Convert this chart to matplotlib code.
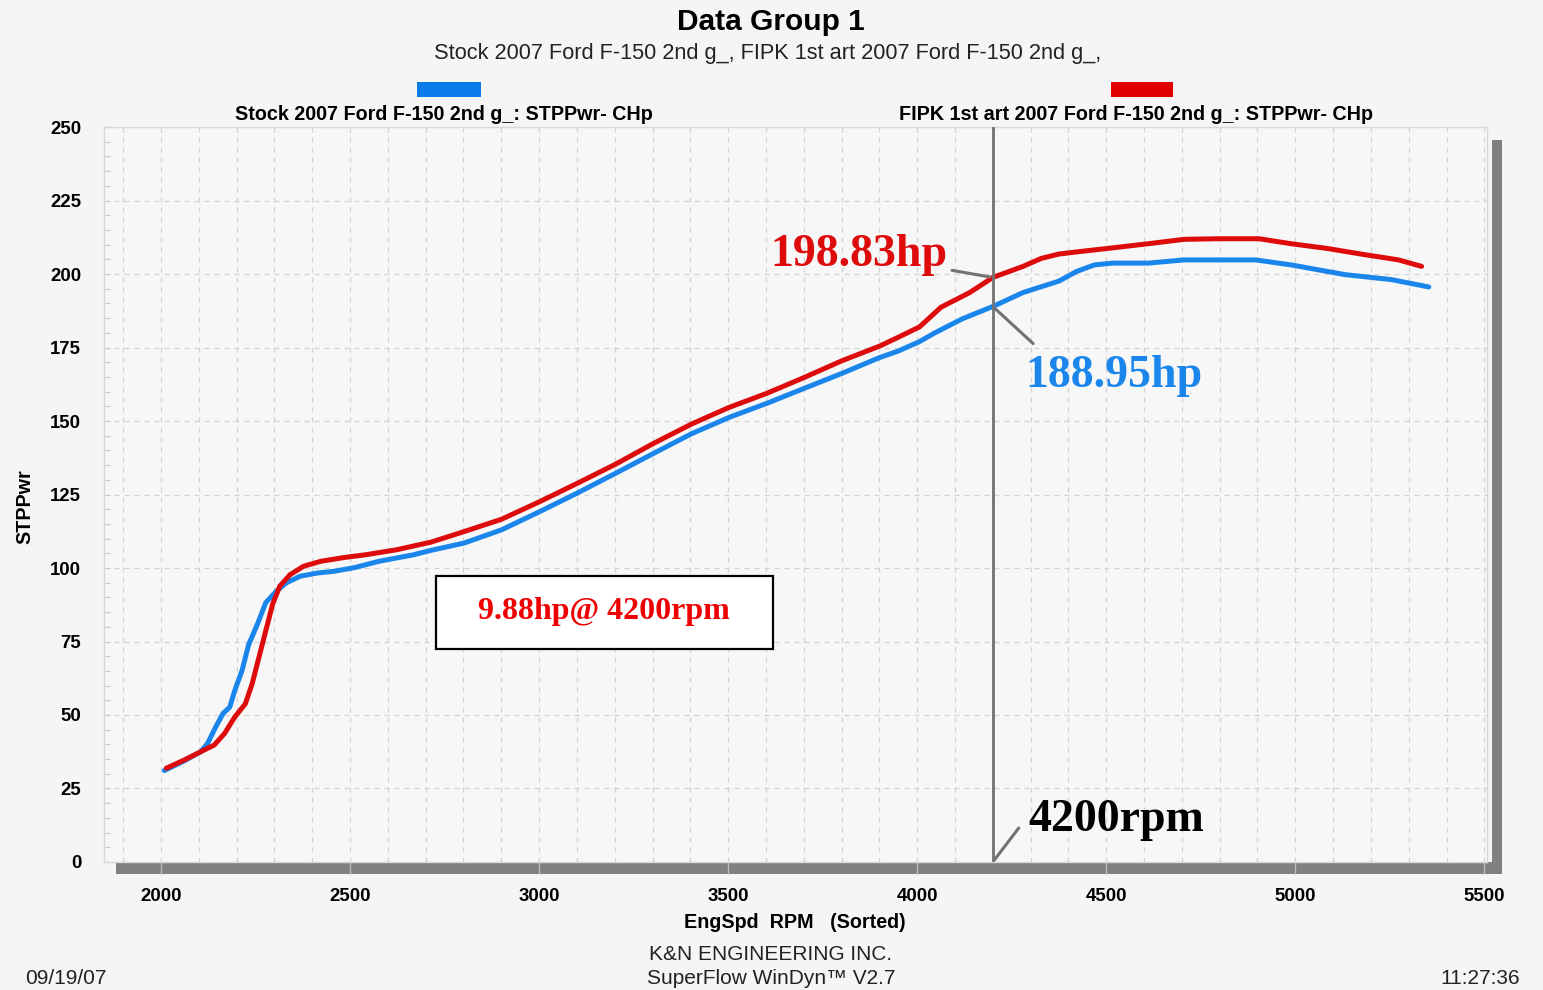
import matplotlib
matplotlib.use('Agg')
import matplotlib.pyplot as plt
from matplotlib.patches import Rectangle
from matplotlib.ticker import MultipleLocator

# dyno data
stock_rpm = [2009, 2060, 2105, 2123, 2145, 2164, 2182, 2195, 2214, 2232, 2255, 2277, 2305,
             2332, 2368, 2414, 2459, 2514, 2577, 2668, 2714, 2802, 2901, 3002, 3101, 3202,
             3303, 3402, 3502, 3602, 3701, 3801, 3901, 3950, 4006, 4044, 4120, 4200, 4280,
             4375, 4422, 4469, 4517, 4611, 4706, 4895, 4989, 5131, 5254, 5353]
stock_hp = [31.1, 34.3, 37.5, 40.3, 46.0, 50.5, 52.7, 58.3, 65.0, 74.0, 80.9, 88.2, 92.1,
            95.0, 97.2, 98.3, 98.9, 100.2, 102.3, 104.5, 106.0, 108.5, 113.0, 119.2, 125.5, 132.2,
            139.0, 145.6, 151.2, 156.0, 161.1, 166.2, 171.6, 173.8, 177.0, 179.8, 184.8, 188.95, 193.7,
            197.6, 200.9, 203.1, 203.7, 203.7, 204.8, 204.8, 203.1, 199.8, 198.1, 195.6]

fipk_rpm = [2014, 2060, 2105, 2141, 2168, 2195, 2223, 2241, 2259, 2277, 2295, 2314, 2341,
            2377, 2423, 2486, 2541, 2623, 2714, 2802, 2901, 3002, 3101, 3202, 3303, 3402,
            3502, 3602, 3701, 3801, 3901, 3950, 4006, 4063, 4139, 4200, 4280, 4328, 4375,
            4441, 4517, 4611, 4706, 4800, 4904, 4989, 5084, 5178, 5273, 5334]
fipk_hp = [31.9, 34.6, 37.5, 39.8, 43.7, 49.3, 53.8, 60.6, 69.6, 78.6, 87.6, 93.8, 97.7,
           100.6, 102.3, 103.6, 104.5, 106.2, 108.8, 112.4, 116.6, 122.6, 128.8, 135.3, 142.4, 148.9,
           154.6, 159.4, 164.8, 170.5, 175.5, 178.5, 182.0, 188.7, 193.7, 198.83, 202.6, 205.3, 206.8,
           207.8, 208.9, 210.3, 211.8, 212.0, 212.0, 210.3, 208.7, 206.7, 204.8, 202.6]

x_ticks = [2000, 2500, 3000, 3500, 4000, 4500, 5000, 5500]
y_ticks = [0, 25, 50, 75, 100, 125, 150, 175, 200, 225, 250]
mark_rpm = 4200
stock_at_mark = 188.95
fipk_at_mark = 198.83
gain = 9.88

stock_label = 'Stock 2007 Ford F-150 2nd g_: STPPwr- CHp'
fipk_label = 'FIPK 1st art 2007 Ford F-150 2nd g_: STPPwr- CHp'

BLUE = '#1a86ec'
RED = '#dd0b0b'
GRAY = '#727272'
SANS = 'Liberation Sans'
SERIF = 'Liberation Serif'

fig = plt.figure(figsize=(15.43, 9.9), dpi=100, facecolor='#f5f5f5')
ax = fig.add_axes([0.0671, 0.1293, 0.8966, 0.7424])
ax.set_facecolor('#f7f7f7')

ax.plot(stock_rpm, stock_hp, color=BLUE, lw=3.6, solid_capstyle='round', zorder=3)
ax.plot(fipk_rpm, fipk_hp, color=RED, lw=3.6, solid_capstyle='round', zorder=3.1)
ax.axvline(mark_rpm, color=GRAY, lw=2, zorder=4)

ax.set_xlim(1848, 5507)
ax.set_ylim(0, 250)
ax.set_xticks(x_ticks)
ax.set_yticks(y_ticks)
ax.xaxis.set_minor_locator(MultipleLocator(100))
ax.yaxis.set_minor_locator(MultipleLocator(5))
ax.grid(which='minor', axis='x', ls=(0, (4, 4)), color='#d2d2d2', lw=0.9)
ax.grid(which='major', axis='x', ls=(0, (4, 4)), color='#d2d2d2', lw=0.9)
ax.grid(which='major', axis='y', ls=(0, (4, 4)), color='#d2d2d2', lw=0.9)

for s in ax.spines.values():
    s.set_color('#d8d8d8')
    s.set_linewidth(1)

ax.tick_params(axis='x', which='major', direction='out', length=8.6, width=1, color='#bcbcbc', pad=10)
ax.tick_params(axis='x', which='minor', length=0)
ax.tick_params(axis='y', which='both', direction='in', length=4.5, width=0.8, color='#c8c8c8', pad=16)
for lab in ax.get_xticklabels() + ax.get_yticklabels():
    lab.set_fontfamily(SANS)
    lab.set_fontweight('bold')
    lab.set_fontsize(13.4)

# drop shadow under and right of the frame
ax.add_patch(Rectangle((0.009, -0.0163), 1.0018, 0.0163, transform=ax.transAxes,
                       color='#808080', clip_on=False, zorder=0.5, lw=0))
ax.add_patch(Rectangle((1.0036, -0.0163), 0.0072, 0.9986, transform=ax.transAxes,
                       color='#808080', clip_on=False, zorder=0.5, lw=0))

# callouts
ax.annotate('', xy=(mark_rpm, fipk_at_mark), xytext=(4085, 201.4),
            arrowprops=dict(arrowstyle='-', color=GRAY, lw=2.2), zorder=5)
ax.text(3611, 202.7, f'{fipk_at_mark:.2f}hp', color=RED, family=SERIF, weight='bold',
        fontsize=33, ha='left', va='baseline')
ax.annotate('', xy=(mark_rpm, stock_at_mark), xytext=(4312, 175.7),
            arrowprops=dict(arrowstyle='-', color=GRAY, lw=2.2), zorder=5)
ax.text(4286, 161.4, f'{stock_at_mark:.2f}hp', color=BLUE, family=SERIF, weight='bold',
        fontsize=33, ha='left', va='baseline')
ax.annotate('', xy=(mark_rpm, 0), xytext=(4273, 12.3),
            arrowprops=dict(arrowstyle='-', color=GRAY, lw=2.2), zorder=5)
ax.text(4295, 10.6, f'{mark_rpm}rpm', color='black', family=SERIF, weight='bold',
        fontsize=33, ha='left', va='baseline')

ax.add_patch(Rectangle((0.2403, 0.2902), 0.2434, 0.0989, transform=ax.transAxes,
                       facecolor='white', edgecolor='black', lw=1.6, zorder=6))
ax.text(0.362, 0.341, f'{gain:.2f}hp@ {mark_rpm}rpm', transform=ax.transAxes, color='#ee0000',
        family=SERIF, weight='bold', fontsize=23, ha='center', va='center', zorder=7)

# header / legend
fig.text(771 / 1543, 1 - 22 / 990, 'Data Group 1', family=SANS, weight='bold', fontsize=21.5,
         ha='center', va='center')
fig.text(768 / 1543, 1 - 53 / 990,
         'Stock 2007 Ford F-150 2nd g_, FIPK 1st art 2007 Ford F-150 2nd g_,',
         family=SANS, fontsize=15.7, ha='center', va='center', color='#222222')
fig.add_artist(Rectangle((417 / 1543, 1 - 97 / 990), 64 / 1543, 15 / 990,
                         transform=fig.transFigure, color='#0a7be8', lw=0))
fig.add_artist(Rectangle((1111 / 1543, 1 - 97 / 990), 62 / 1543, 15 / 990,
                         transform=fig.transFigure, color='#e00000', lw=0))
fig.text(443.5 / 1543, 1 - 115 / 990, stock_label, family=SANS, weight='bold', fontsize=14.2,
         ha='center', va='center')
fig.text(1136 / 1543, 1 - 115 / 990, fipk_label, family=SANS, weight='bold', fontsize=14.2,
         ha='center', va='center')

# axis titles
fig.text(25 / 1543, 1 - 507 / 990, 'STPPwr', family=SANS, weight='bold', fontsize=14.2,
         rotation=90, ha='center', va='center')
fig.text(795 / 1543, 1 - 922 / 990, 'EngSpd  RPM   (Sorted)', family=SANS, weight='bold',
         fontsize=14.2, ha='center', va='center')

# footer
fig.text(771 / 1543, 1 - 955 / 990, 'K&N ENGINEERING INC.', family=SANS, fontsize=15,
         ha='center', va='center', color='#222222')
fig.text(771 / 1543, 1 - 979 / 990, 'SuperFlow WinDyn\u2122 V2.7', family=SANS, fontsize=15,
         ha='center', va='center', color='#222222')
fig.text(25 / 1543, 1 - 979 / 990, '09/19/07', family=SANS, fontsize=15,
         ha='left', va='center', color='#222222')
fig.text(1520 / 1543, 1 - 979 / 990, '11:27:36', family=SANS, fontsize=15,
         ha='right', va='center', color='#222222')

fig.savefig('out.png', dpi=100, facecolor=fig.get_facecolor())
